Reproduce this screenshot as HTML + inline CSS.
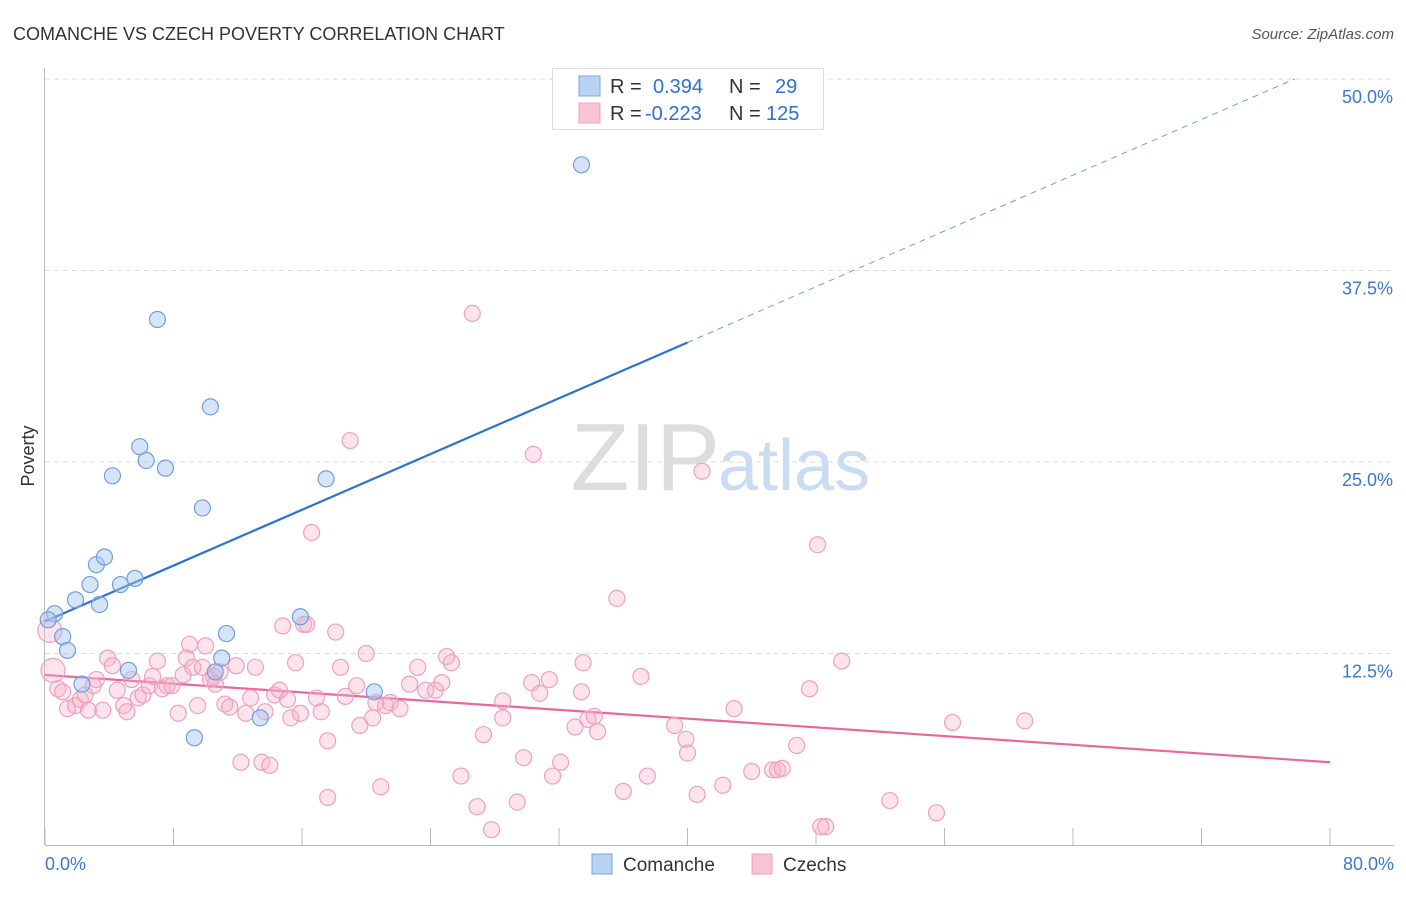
<!DOCTYPE html>
<html><head><meta charset="utf-8"><style>
body{margin:0;background:#fff;font-family:"Liberation Sans",sans-serif;}
svg text{font-family:"Liberation Sans",sans-serif;}
</style></head><body>
<svg id="chart" width="1406" height="892">
<text x="13" y="40" font-size="18" fill="#333">COMANCHE VS CZECH POVERTY CORRELATION CHART</text>
<text x="1394" y="39" font-size="15" fill="#555" font-style="italic" text-anchor="end">Source: ZipAtlas.com</text>
<text x="720" y="490" font-size="96" fill="#ddd" font-family="Liberation Serif" text-anchor="end">ZIP</text>
<text x="718" y="490" font-size="72" fill="#c9dcf2">atlas</text>
<g id="grid"></g><g id="axes"></g><g id="lines"></g><g id="pts"></g>
<text x="34" y="456" font-size="18" fill="#333" transform="rotate(-90 34 456)" text-anchor="middle">Poverty</text>
<g>
<rect x="552.5" y="68.5" width="271" height="61" fill="#fff" stroke="#ddd"/>
<rect x="579" y="76" width="21" height="20" fill="#b9d3f5" stroke="#7aa6e0"/>
<rect x="579" y="103" width="21" height="20" fill="#f9c4d5" stroke="#f0a0bc"/>
<text x="610" y="93" font-size="20" fill="#333">R =</text><text x="653" y="93" font-size="20" fill="#2e6fd0">0.394</text>
<text x="729" y="93" font-size="20" fill="#333">N =</text><text x="775" y="93" font-size="20" fill="#2e6fd0">29</text>
<text x="610" y="120" font-size="20" fill="#333">R =</text><text x="645" y="120" font-size="20" fill="#2e6fd0">-0.223</text>
<text x="729" y="120" font-size="20" fill="#333">N =</text><text x="766" y="120" font-size="20" fill="#2e6fd0">125</text>
</g>
<g>
<rect x="592" y="854" width="20" height="20" fill="#b9d3f5" stroke="#7aa6e0"/>
<text x="623" y="871" font-size="19" fill="#333">Comanche</text>
<rect x="752" y="854" width="20" height="20" fill="#f9c4d5" stroke="#f0a0bc"/>
<text x="783" y="871" font-size="19" fill="#333">Czechs</text>
</g>
</svg>
<script>
const yTicks=[12.5,25,37.5,50];
const yTickLabels=["12.5%","25.0%","37.5%","50.0%"];
const xTickLabels=["0.0%","80.0%"];
const comancheX=[0.6,1.1,1.4,1.9,2.3,2.8,3.2,3.4,3.7,4.2,4.7,5.2,5.6,5.9,6.3,7.0,7.5,9.3,9.8,10.3,11.0,11.3,10.6,13.4,15.9,17.5,20.5,33.4,0.2];
const comancheY=[15.1,13.6,12.7,16.0,10.5,17.0,18.3,15.7,18.8,24.1,17.0,11.4,17.4,26.0,25.1,34.3,24.6,7.0,22.0,28.6,12.2,13.8,11.3,8.3,14.9,23.9,10.0,44.4,14.7];
const czechX=[0.3,0.5,0.8,1.1,1.4,1.9,2.2,2.5,2.7,3.0,3.2,3.6,3.9,4.2,4.5,4.9,5.1,5.4,5.8,6.1,6.5,6.7,7.0,7.3,7.6,7.9,8.3,8.6,8.8,9.0,9.2,9.5,9.8,10.0,10.3,10.5,10.6,10.9,11.2,11.5,11.9,12.2,12.5,12.8,13.1,13.5,13.7,14.0,14.3,14.6,14.8,15.1,15.3,15.6,15.9,16.1,16.3,16.6,16.9,17.2,17.6,17.6,18.1,18.4,18.7,19.0,19.4,19.6,20.0,20.4,20.6,20.9,21.2,21.5,22.1,22.7,23.2,23.7,24.3,24.7,25.0,25.3,25.9,26.6,26.9,27.3,27.8,28.5,28.5,29.4,29.8,30.3,30.4,30.8,31.4,31.6,32.1,33.0,33.4,33.5,33.8,34.2,34.4,35.6,36.0,37.1,37.5,39.2,39.9,40.0,40.6,40.9,42.2,42.9,44.0,45.3,45.6,45.9,46.8,47.6,48.1,48.3,48.6,49.6,52.6,55.5,56.5,61.0];
const czechY=[14.0,11.4,10.2,10.0,8.9,9.1,9.5,9.8,8.8,10.4,10.8,8.8,12.2,11.7,10.1,9.1,8.7,10.8,9.6,9.8,10.4,11.0,12.0,10.2,10.4,10.4,8.6,11.1,12.2,13.1,11.6,9.1,11.6,13.0,10.8,11.0,10.5,11.3,9.2,9.0,11.7,5.4,8.6,9.6,11.6,5.4,8.7,5.2,9.8,10.1,14.3,9.5,8.3,11.9,8.6,14.4,14.4,20.4,9.6,8.7,6.8,3.1,13.9,11.6,9.7,26.4,10.4,7.8,12.5,8.3,9.3,3.8,9.1,9.3,8.9,10.5,11.6,10.1,10.1,10.6,12.3,11.9,4.5,34.7,2.5,7.2,1.0,9.4,8.3,2.8,5.7,10.6,25.5,9.9,10.8,4.5,5.4,7.7,10.0,11.9,8.2,8.4,7.4,16.1,3.5,11.0,4.5,7.8,6.9,6.0,3.3,24.4,3.9,8.9,4.8,4.9,4.9,5.0,6.5,10.2,19.6,1.2,1.2,12.0,2.9,2.1,8.0,8.1];
const comancheTrend=[14.6,32.8]; // values at x=0 and x=40
const czechTrend=[11.1,5.4];     // values at x=0 and x=80
const NS="http://www.w3.org/2000/svg";
const sx=v=>45+v/80*1285, sy=v=>845-v/12.5*191.5;
function mk(tag,attrs,parent){const e=document.createElementNS(NS,tag);for(const k in attrs)e.setAttribute(k,attrs[k]);document.getElementById(parent).appendChild(e);return e;}
yTicks.forEach((t,i)=>{
 const g=mk('line',{x1:45,x2:1394,y1:sy(t),y2:sy(t),stroke:'#ddd','stroke-dasharray':'5,4'},'grid');
 
 
 const l=mk('text',{x:1393,y:sy(t)+24,'font-size':18,fill:'#3a78d4','text-anchor':'end'},'axes');l.textContent=yTickLabels[i];
 
 
});
const ax=mk('line',{x1:44.5,x2:44.5,y1:68,y2:845,stroke:'#bbb'},'axes');


const bx=mk('line',{x1:45,x2:1394,y1:845.5,y2:845.5,stroke:'#bbb'},'axes');


for(let i=0;i<=10;i++){const t=mk('line',{x1:sx(i*8),x2:sx(i*8),y1:828,y2:845,stroke:'#bbb'},'axes');
 
 }
[[0,'start',45],[80,'end',1394]].forEach((a,i)=>{const t=mk('text',{x:a[2],y:870,'font-size':18,fill:'#3a78d4','text-anchor':a[1]},'axes');t.textContent=xTickLabels[i];
 
 });
const slope=(comancheTrend[1]-comancheTrend[0])/40;
const l1=mk('line',{x1:sx(0),y1:sy(comancheTrend[0]),x2:sx(40),y2:sy(comancheTrend[1]),stroke:'#2b72d6','stroke-width':2.2},'lines');


const xe=(50-comancheTrend[0])/slope;
const l2=mk('line',{x1:sx(40),y1:sy(comancheTrend[1]),x2:sx(xe),y2:sy(50),stroke:'#6a9fe0','stroke-width':1,'stroke-dasharray':'6,5'},'lines');


const l3=mk('line',{x1:sx(0),y1:sy(czechTrend[0]),x2:sx(80),y2:sy(czechTrend[1]),stroke:'#e8689a','stroke-width':2.2},'lines');


czechX.forEach((x,i)=>{const c=mk('circle',{cx:sx(x),cy:sy(czechY[i]),r:i<2?12:8,fill:'rgba(246,176,200,0.35)',stroke:'#f0a0bc','stroke-width':1.2},'pts');
 
 });
comancheX.forEach((x,i)=>{const c=mk('circle',{cx:sx(x),cy:sy(comancheY[i]),r:8,fill:'rgba(164,196,240,0.45)',stroke:'#6f9fdf','stroke-width':1.2},'pts');
 
 });
</script>
</body></html>
